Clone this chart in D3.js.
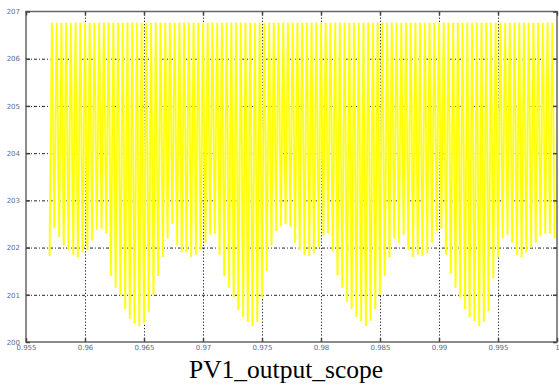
<!DOCTYPE html>
<html>
<head>
<meta charset="utf-8">
<script src="https://cdn.jsdelivr.net/npm/d3@7"></script>
<style>
  html, body { margin: 0; padding: 0; background: #ffffff; }
  svg { display: block; }
</style>
</head>
<body>
<svg id="chart" width="559" height="387"></svg>
<script>
// ---- data ----
const xTickValues = [0.955, 0.96, 0.965, 0.97, 0.975, 0.98, 0.985, 0.99, 0.995, 1];
const xTickLabels = ["0.955", "0.96", "0.965", "0.97", "0.975", "0.98", "0.985", "0.99", "0.995", "1"];
const yTickValues = [200, 201, 202, 203, 204, 205, 206, 207];
const yTickLabels = ["200", "201", "202", "203", "204", "205", "206", "207"];
const titleText = "PV1_output_scope";

// sampled ripple: one trough per switching cycle, peak constant
const signalStart = 0.9570;   // time of first trough
const cycleStep = 0.0004;     // time between troughs
const peakValue = 206.76;
const troughValues = [
  201.82, 202.41, 202.22, 202.05, 201.95, 201.85, 201.80, 201.90, 201.95, 202.15,
  202.38, 202.40, 202.30, 201.40, 201.15, 201.00, 200.70, 200.50, 200.40,
  200.34, 200.40, 200.64, 201.00, 201.40, 201.80, 202.20, 202.50, 202.05, 201.90,
  201.90, 201.80, 201.85, 201.95, 202.10, 202.27, 202.30, 201.85, 201.40, 201.15,
  200.95, 200.68, 200.53, 200.43,
  200.34, 200.43, 200.95, 201.50, 202.05, 202.35, 202.45, 202.50, 202.45, 202.10,
  201.95, 201.85, 201.82, 201.88, 202.02, 202.25, 202.30, 201.92, 201.42, 201.15,
  200.85, 200.70, 200.53, 200.45,
  200.34, 200.45, 200.70, 201.00, 201.40, 201.80, 202.20, 202.10, 202.27, 201.95,
  201.80, 201.85, 201.82, 201.88, 202.10, 202.35, 202.40, 201.85, 201.45, 201.15,
  200.95, 200.70, 200.53, 200.45,
  200.34, 200.43, 200.65, 201.35, 201.80, 202.20, 202.27, 202.10, 201.85, 201.80,
  201.90, 202.00, 202.10, 202.25, 202.30, 202.30, 202.20
];

// ---- layout ----
const svg = d3.select("#chart");
const plot = { left: 26, right: 557, top: 11.5, bottom: 342 };

const x = d3.scaleLinear().domain([0.955, 1]).range([plot.left, plot.right]);
const y = d3.scaleLinear().domain([200, 207]).range([plot.bottom, plot.top]);

// clip
svg.append("defs").append("clipPath").attr("id", "clip")
  .append("rect")
  .attr("x", plot.left).attr("y", plot.top)
  .attr("width", plot.right - plot.left).attr("height", plot.bottom - plot.top);

// grid (drawn beneath the trace)
const gridX = svg.append("g")
  .attr("transform", `translate(0,${plot.bottom})`)
  .call(d3.axisBottom(x).tickValues(xTickValues.slice(1, -1)).tickSize(-(plot.bottom - plot.top)).tickFormat(""));
gridX.select(".domain").remove();
gridX.selectAll("line").attr("stroke", "#222").attr("stroke-width", 1).attr("stroke-dasharray", "1.2,2");

const gridY = svg.append("g")
  .attr("transform", `translate(${plot.left},0)`)
  .call(d3.axisLeft(y).tickValues(yTickValues.slice(1, -1)).tickSize(-(plot.right - plot.left)).tickFormat(""));
gridY.select(".domain").remove();
gridY.selectAll("line").attr("stroke", "#222").attr("stroke-width", 1).attr("stroke-dasharray", "3,2,1,2");

// build the triangle ripple: trough, peak, trough, ...
const pts = [];
troughValues.forEach((v, i) => {
  const t = signalStart + i * cycleStep;
  pts.push([t, v]);
  if (i < troughValues.length - 1) pts.push([t + cycleStep / 2, peakValue]);
});

const line = d3.line().x(d => x(d[0])).y(d => y(d[1]));

// pale halo then bright core, like the anti-aliased scope trace
svg.append("path")
  .datum(pts)
  .attr("clip-path", "url(#clip)")
  .attr("fill", "none")
  .attr("stroke", "#ffff90")
  .attr("stroke-width", 2.6)
  .attr("stroke-opacity", 0.9)
  .attr("stroke-linejoin", "bevel")
  .attr("d", line);

svg.append("path")
  .datum(pts)
  .attr("clip-path", "url(#clip)")
  .attr("fill", "none")
  .attr("stroke", "#ffff00")
  .attr("stroke-width", 1.5)
  .attr("stroke-linejoin", "bevel")
  .attr("d", line);

// frame
svg.append("rect")
  .attr("x", plot.left).attr("y", plot.top)
  .attr("width", plot.right - plot.left).attr("height", plot.bottom - plot.top)
  .attr("fill", "none").attr("stroke", "#666").attr("stroke-width", 1.5);

// axes with inward ticks
const labelColor = "#5b6c96";
const axB = svg.append("g")
  .attr("transform", `translate(0,${plot.bottom})`)
  .call(d3.axisBottom(x).tickValues(xTickValues).tickSizeInner(-4).tickSizeOuter(0).tickPadding(3.5)
        .tickFormat((d, i) => xTickLabels[i]));
axB.select(".domain").remove();
axB.selectAll("line").attr("stroke", "#444").attr("stroke-width", 1.5);
axB.selectAll("text").attr("fill", labelColor).attr("font-family", "DejaVu Sans, sans-serif").attr("font-size", 7);

const axT = svg.append("g")
  .attr("transform", `translate(0,${plot.top})`)
  .call(d3.axisTop(x).tickValues(xTickValues).tickSizeInner(-4).tickSizeOuter(0).tickFormat(""));
axT.select(".domain").remove();
axT.selectAll("line").attr("stroke", "#444").attr("stroke-width", 1.5);

const axL = svg.append("g")
  .attr("transform", `translate(${plot.left},0)`)
  .call(d3.axisLeft(y).tickValues(yTickValues).tickSizeInner(-4).tickSizeOuter(0).tickPadding(6)
        .tickFormat((d, i) => yTickLabels[i]));
axL.select(".domain").remove();
axL.selectAll("line").attr("stroke", "#444").attr("stroke-width", 1.5);
axL.selectAll("text").attr("fill", labelColor).attr("font-family", "DejaVu Sans, sans-serif").attr("font-size", 7);

const axR = svg.append("g")
  .attr("transform", `translate(${plot.right},0)`)
  .call(d3.axisRight(y).tickValues(yTickValues).tickSizeInner(-4).tickSizeOuter(0).tickFormat(""));
axR.select(".domain").remove();
axR.selectAll("line").attr("stroke", "#444").attr("stroke-width", 1.5);

// title
svg.append("text")
  .attr("x", 286).attr("y", 378)
  .attr("text-anchor", "middle")
  .attr("font-family", "Liberation Serif, Times New Roman, serif")
  .attr("font-size", 25.5)
  .attr("fill", "#000")
  .text(titleText);
</script>
</body>
</html>
